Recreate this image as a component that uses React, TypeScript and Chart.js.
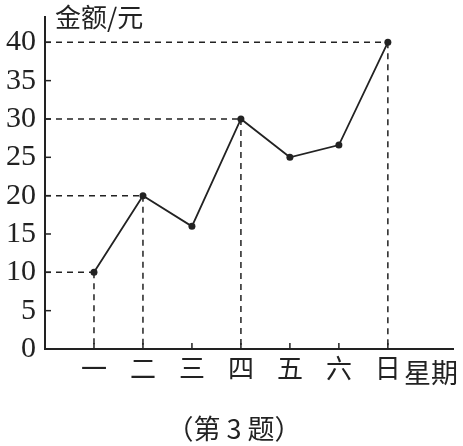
import { useEffect, useRef } from "react";
import { Chart, registerables } from "chart.js";

Chart.register(...registerables);

// weekdays and money spent (元)
const days = ["一", "二", "三", "四", "五", "六", "日"];
const amounts = [10, 20, 16, 30, 25, 26.6, 40];
// days that get dashed guide lines to both axes
const guideDays = [0, 1, 3, 6];
const yTicks = [0, 5, 10, 15, 20, 25, 30, 35, 40];

const yTitle = "金额/元";
const xTitle = "星期";
const caption = "（第 3 题）";

const INK = "#222";
const CJK = '"Noto Sans CJK SC", sans-serif';
const SERIF = '"Liberation Serif", "Times New Roman", serif';

const guidePlugin = {
  id: "guides",
  beforeDatasetsDraw(chart: any) {
    const { ctx, scales } = chart;
    const x = scales.x;
    const y = scales.y;
    ctx.save();
    ctx.strokeStyle = INK;
    ctx.lineWidth = 1.5;
    ctx.setLineDash([6, 5]);
    guideDays.forEach((i) => {
      const px = x.getPixelForValue(i + 1);
      const py = y.getPixelForValue(amounts[i]);
      ctx.beginPath();
      ctx.moveTo(x.left, py);
      ctx.lineTo(px, py);
      ctx.moveTo(px, py);
      ctx.lineTo(px, y.bottom);
      ctx.stroke();
    });
    ctx.setLineDash([]);
    // small inward tick marks
    days.forEach((_, i) => {
      const px = x.getPixelForValue(i + 1);
      ctx.beginPath();
      ctx.moveTo(px, y.bottom);
      ctx.lineTo(px, y.bottom - 6);
      ctx.stroke();
    });
    yTicks.forEach((v) => {
      const py = y.getPixelForValue(v);
      ctx.beginPath();
      ctx.moveTo(x.left, py);
      ctx.lineTo(x.left + 6, py);
      ctx.stroke();
    });
    ctx.restore();
  },
  afterDraw(chart: any) {
    const { ctx, scales } = chart;
    ctx.save();
    ctx.fillStyle = INK;
    ctx.textBaseline = "top";
    ctx.textAlign = "left";
    ctx.font = `26px ${CJK}`;
    ctx.fillText(yTitle, scales.x.left + 10, 4);
    ctx.font = `27px ${CJK}`;
    ctx.fillText(xTitle, 404, 359);
    ctx.textAlign = "center";
    ctx.fillText(caption, 234, 415);
    ctx.restore();
  },
};

const App = () => {
  const canvasRef = useRef<HTMLCanvasElement>(null);

  useEffect(() => {
    if (!canvasRef.current) return;
    document.body.style.margin = "0";
    const ctx = canvasRef.current.getContext("2d");

    const chart = new Chart(ctx!, {
      type: "line",
      data: {
        datasets: [
          {
            data: amounts.map((v, i) => ({ x: i + 1, y: v })),
            borderColor: INK,
            borderWidth: 1.8,
            backgroundColor: INK,
            pointRadius: 3.5,
            pointBorderWidth: 0,
            tension: 0,
          },
        ],
      },
      plugins: [guidePlugin],
      options: {
        animation: false,
        responsive: false,
        layout: { padding: { top: 17, right: 10, left: 0, bottom: 0 } },
        plugins: {
          legend: { display: false },
          tooltip: { enabled: false },
        },
        scales: {
          x: {
            type: "linear",
            min: 0,
            max: 8.33,
            afterBuildTicks: (scale: any) => {
              scale.ticks = days.map((_, i) => ({ value: i + 1 }));
            },
            afterFit: (scale: any) => {
              scale.height = 97;
              scale.paddingLeft = 0;
              scale.paddingRight = 0;
            },
            grid: { display: false, drawTicks: false },
            border: { display: true, color: INK, width: 2 },
            ticks: {
              autoSkip: false,
              maxRotation: 0,
              padding: 4,
              color: INK,
              font: { family: CJK, size: 26 },
              callback: (value: any) => days[Number(value) - 1] ?? "",
            },
          },
          y: {
            type: "linear",
            min: 0,
            max: 43.3,
            afterBuildTicks: (scale: any) => {
              scale.ticks = yTicks.map((v) => ({ value: v }));
            },
            afterFit: (scale: any) => {
              scale.width = 45;
              scale.paddingTop = 0;
              scale.paddingBottom = 0;
            },
            grid: { display: false, drawTicks: false },
            border: { display: true, color: INK, width: 2 },
            ticks: {
              padding: 9,
              color: INK,
              font: { family: SERIF, size: 30 },
            },
          },
        },
      },
    });

    return () => {
      chart.destroy();
    };
  }, []);

  return <canvas ref={canvasRef} width={463} height={446}></canvas>;
};

export default App;
